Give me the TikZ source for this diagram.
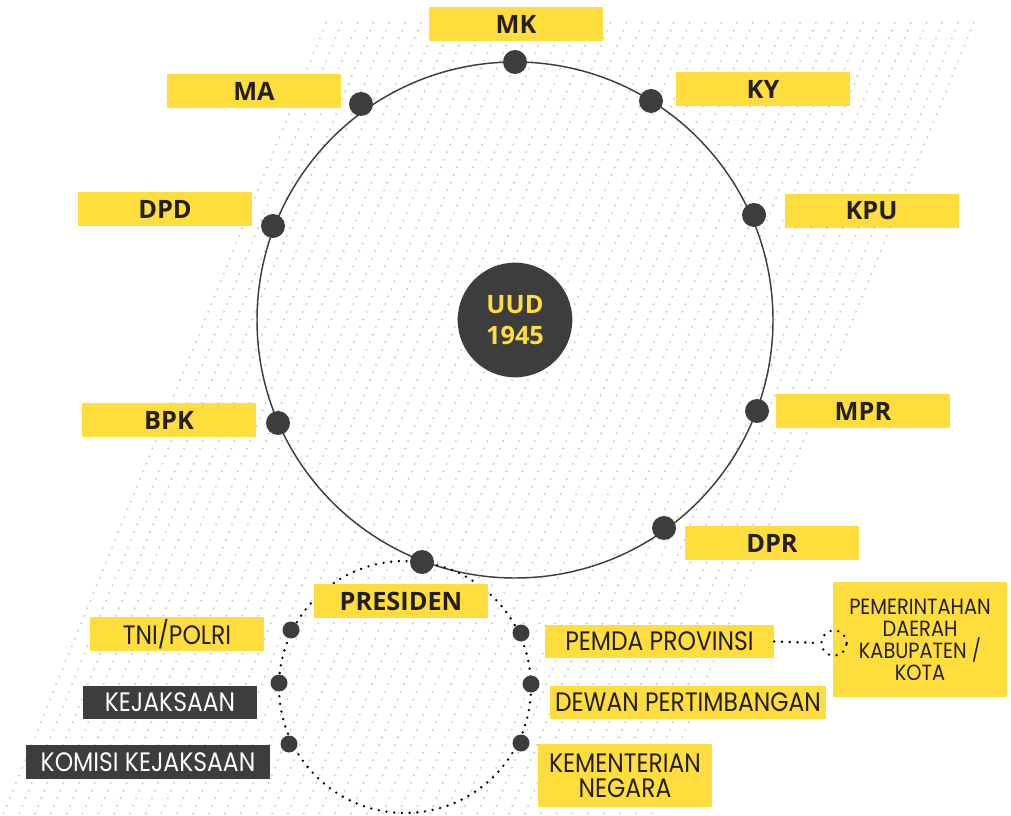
\documentclass[tikz,border=0pt]{standalone}
\usepackage{fontspec}
\setmainfont{Open Sans}
\newfontfamily\tipisfont[FakeStretch=0.88]{Poppins}
\usepackage{tikz}
\usetikzlibrary{positioning}
\definecolor{kuning}{HTML}{FFDD3C}
\definecolor{gelapabu}{HTML}{3D3D3D}
\definecolor{polagray}{HTML}{CCCCCC}
\definecolor{tinta}{HTML}{231F20}
\tikzset{
lembaga/.style={fill=kuning, minimum width=130.5pt, minimum height=25.5pt, inner sep=0pt, text=tinta, font=\bfseries\fontsize{19}{22}\selectfont}, % boxes round the big circle
bawah/.style={fill=kuning, minimum width=130.5pt, minimum height=25pt, inner sep=0pt, text=tinta, align=center, font=\tipisfont\fontsize{20}{19}\selectfont}, % boxes under PRESIDEN
bawahgelap/.style={bawah, fill=gelapabu, text=white},
titik/.style={circle, fill=gelapabu, minimum size=18pt, inner sep=0pt},
titikkecil/.style={circle, fill=gelapabu, minimum size=12.75pt, inner sep=0pt},
garis/.style={gelapabu, line width=1.1pt},
putus/.style={black, line width=2pt, line cap=round, dash pattern=on 0pt off 5.8pt} % the dotted ring
}

\begin{document}
\begin{tikzpicture}[x=0.75pt, y=-0.75pt]
        \useasboundingbox (0,0) rectangle (1011,816);
        \foreach \i in {0,...,104} {
          \fill [polagray] \foreach \j in {0,...,41} { (326-3.1*\i+15.8*\j, 23+7.6*\i) circle (1.15) };
        }
        \node [circle, fill=gelapabu, minimum size=86pt, inner sep=0pt, text=kuning, align=center, font=\bfseries\fontsize{19}{23}\selectfont] (uud) at (515,320) {UUD\\1945};
        \draw [garis] (uud.center) circle (258);
        \coordinate (presc) at (405,687);
        \draw [putus] (presc) circle (126);
        \node [titik] (mkdot) at (515,62) {};
        \node [titik] (kydot) at (651,101) {};
        \node [titik] (kpudot) at (754,215) {};
        \node [titik] (mprdot) at (757,411) {};
        \node [titik] (dprdot) at (664,528) {};
        \node [titik] (presdot) at (422,562) {};
        \node [titik] (bpkdot) at (278,423) {};
        \node [titik] (dpddot) at (273,226) {};
        \node [titik] (madot) at (361,104) {};
        \node [lembaga] (mk) at (516,24) {MK};
        \node [lembaga] (ky) at (763,89) {KY};
        \node [lembaga] (kpu) at (871.5,211) {KPU};
        \node [lembaga] (mpr) at (863,411) {MPR};
        \node [lembaga] (dpr) at (772,543) {DPR};
        \node [lembaga] (ma) at (254,91) {MA};
        \node [lembaga] (dpd) at (165,209) {DPD};
        \node [lembaga] (bpk) at (169,420) {BPK};
        \node [lembaga] (presiden) at (401,601) {PRESIDEN};
        \node [titikkecil] (tnidot) at (291,630) {};
        \node [titikkecil] (kejadot) at (279,683) {};
        \node [titikkecil] (komisidot) at (289,744) {};
        \node [titikkecil] (pemdadot) at (521,633) {};
        \node [titikkecil] (dewandot) at (531,684) {};
        \node [titikkecil] (kemendot) at (521,743) {};
        \node [bawah, minimum height=25.5pt] (tni) at (177,634) {TNI/POLRI};
        \node [bawahgelap, minimum height=24.75pt] (keja) at (170,702.5) {KEJAKSAAN};
        \node [bawahgelap, minimum width=183pt, minimum height=25.5pt] (komisi) at (148,762) {KOMISI KEJAKSAAN};
        \node [bawah, minimum width=171.75pt, minimum height=24.75pt] (pemda) at (659.5,641.5) {PEMDA PROVINSI};
        \node [bawah, minimum width=207pt, minimum height=24.75pt] (dewan) at (688,702.5) {DEWAN PERTIMBANGAN};
        \node [bawah, minimum height=47.25pt] (kemen) at (625,775.5) {KEMENTERIAN\\NEGARA};
        \node [bawah, minimum height=86.25pt, font=\tipisfont\fontsize{16.5}{16.5}\selectfont] (pemkab) at (920,639.5) {PEMERINTAHAN\\DAERAH\\KABUPATEN /\\KOTA};
        \node [circle, draw, putus, minimum size=19pt, inner sep=0pt] (cincin) at (834,643) {};
        \draw [putus] (pemda.east) -- (cincin.west);
\end{tikzpicture}
\end{document}
